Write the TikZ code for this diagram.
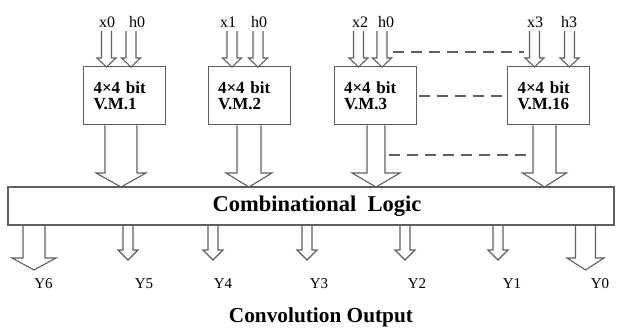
\documentclass[tikz,border=0pt]{standalone}
\usepackage{fontspec}
\setmainfont{Liberation Serif}
\usetikzlibrary{calc,positioning}
\definecolor{linegray}{RGB}{95,95,95}
\tikzset{
  vmbox/.style={draw=linegray,line width=1pt,minimum width=82pt,minimum height=58pt,text width=62pt,inner xsep=10pt,inner ysep=0pt,align=left,font=\fontsize{17}{16}\selectfont\bfseries},
  inlbl/.style={font=\fontsize{16}{16}\selectfont},
  outlbl/.style={font=\fontsize{15}{15}\selectfont},
  fat/.style={draw=linegray,line width=1.1pt,line join=miter},
  dashline/.style={draw=linegray,line width=1.1pt,dash pattern=on 11pt off 7pt},
}
% block arrow: top point, tip, shaft half width, head half width, head length
\newcommand{\fatarrow}[5]{%
  \coordinate(fs)at(#2|-#1);
  \draw[fat]($(fs)+(-#3,0)$)--($(#2)+(-#3,-#5)$)--($(#2)+(-#4,-#5)$)--(#2)
    --($(#2)+(#4,-#5)$)--($(#2)+(#3,-#5)$)--($(fs)+(#3,0)$);}
\begin{document}
\begin{tikzpicture}[x=1pt,y=-1pt]
\useasboundingbox(0,0)rectangle(618,331);
% multipliers
\node[vmbox](vm1)at(124.5,96){4×4 bit\\V.M.1};
\node[vmbox](vm2)at(249,96){4×4 bit\\V.M.2};
\node[vmbox](vm3)at(375,96){4×4 bit\\V.M.3};
\node[vmbox](vm4)at(548.5,96){4×4 bit\\V.M.16};
\node[draw=linegray,line width=1.1pt,minimum width=606pt,minimum height=38pt,inner sep=0pt,
  font=\fontsize{22.5}{22.5}\selectfont\bfseries](logic)at(311,206){\hspace{12pt}Combinational\ \ Logic};
% inputs
\node[inlbl](x0)at(107,22){x0};\node[inlbl](h0a)at(137,22){h0};
\node[inlbl](x1)at(228,22){x1};\node[inlbl](h0b)at(259,22){h0};
\node[inlbl](x2)at(360,22){x2};\node[inlbl](h0c)at(386,22){h0};
\node[inlbl](x3)at(535,22){x3};\node[inlbl](h3)at(569,22){h3};
\coordinate(a1)at(106.5,67);\coordinate(a2)at(131,67);
\coordinate(a3)at(232,67);\coordinate(a4)at(258,67);
\coordinate(a5)at(358.5,67);\coordinate(a6)at(382,67);
\coordinate(a7)at(534.5,67);\coordinate(a8)at(569.5,67);
\fatarrow{x0.south}{a1}{5}{9.5}{9}
\fatarrow{h0a.south}{a2}{5}{9.5}{9}
\fatarrow{x1.south}{a3}{5}{9.5}{9}
\fatarrow{h0b.south}{a4}{5}{9.5}{9}
\fatarrow{x2.south}{a5}{5}{9.5}{9}
\fatarrow{h0c.south}{a6}{5}{9.5}{9}
\fatarrow{x3.south}{a7}{5}{9.5}{9}
\fatarrow{h3.south}{a8}{5}{9.5}{9}
% to the logic block
\coordinate(b1)at(121,187);\coordinate(b2)at(249,187);
\coordinate(b3)at(376,187);\coordinate(b4)at(544.5,187);
\fatarrow{vm1.south}{b1}{16}{25}{14}
\fatarrow{vm2.south}{b2}{12}{23}{14}
\fatarrow{vm3.south}{b3}{9}{24}{14}
\fatarrow{vm4.south}{b4}{11.5}{22}{14}
% dashed links
\coordinate(d1)at(393,52);\coordinate(d2)at(524,52);
\coordinate(d3)at(389,155);\coordinate(d4)at(530,155);
\draw[dashline](d1)--(d2);
\draw[dashline]([xshift=2pt]vm3.east)--([xshift=-3pt]vm4.west);
\draw[dashline](d3)--(d4);
% outputs
\coordinate(c6)at(34,270);\coordinate(c5)at(128,260);\coordinate(c4)at(213,260);
\coordinate(c3)at(307,260);\coordinate(c2)at(405,260);\coordinate(c1)at(498,260);
\coordinate(c0)at(585.5,270);
\fatarrow{logic.south}{c6}{11}{22}{12}
\fatarrow{logic.south}{c5}{5}{10}{10}
\fatarrow{logic.south}{c4}{5}{10}{10}
\fatarrow{logic.south}{c3}{5}{10}{10}
\fatarrow{logic.south}{c2}{5}{10}{10}
\fatarrow{logic.south}{c1}{5}{10}{10}
\fatarrow{logic.south}{c0}{10}{18.5}{12}
\node[outlbl](y6)at(43.5,284){Y6};
\node[outlbl](y5)at(144,284){Y5};
\node[outlbl](y4)at(223,284){Y4};
\node[outlbl](y3)at(319,284){Y3};
\node[outlbl](y2)at(417,284){Y2};
\node[outlbl](y1)at(512,284){Y1};
\node[outlbl](y0)at(600,284){Y0};
\node[font=\fontsize{21.3}{21.3}\selectfont\bfseries](conv)at(321,317){Convolution Output};
\end{tikzpicture}
\end{document}
